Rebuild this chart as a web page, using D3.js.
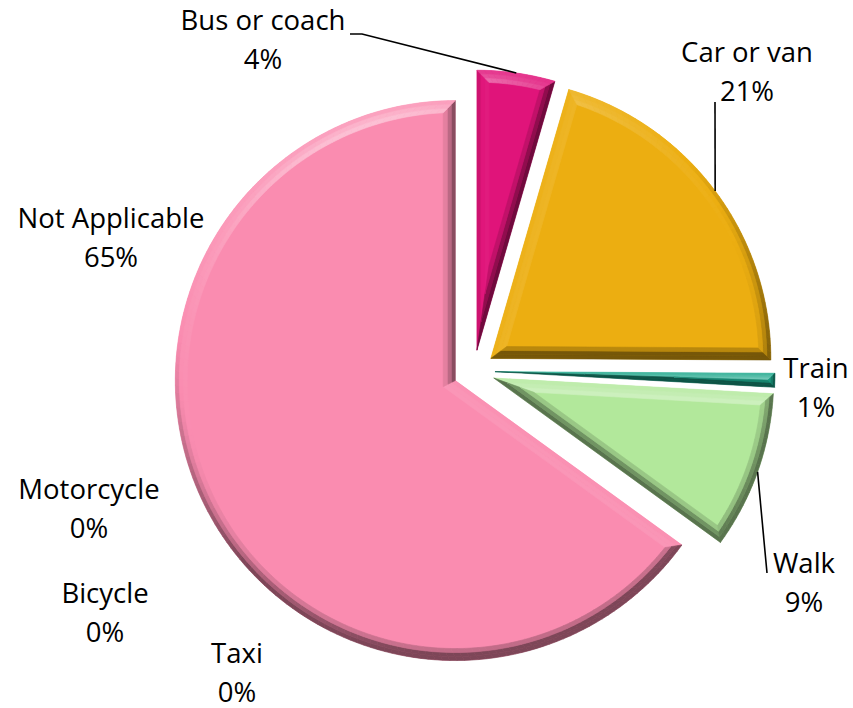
<!DOCTYPE html>
<html>
<head>
<meta charset="utf-8">
<script src="https://cdn.jsdelivr.net/npm/d3@7"></script>
<style>
    html, body { margin: 0; padding: 0; background: #fff; }
    svg { display: block; }
    .label { font-family: "Open Sans", "Noto Sans", sans-serif; font-size: 27.5px; fill: #000; }
</style>
</head>
<body>
<div id="viz_container"></div>
<script>
// data
const categories = ["Bus or coach", "Car or van", "Train", "Walk", "Taxi", "Bicycle", "Motorcycle", "Not Applicable"];
const shares = [4.49, 20.6, 0.8, 9.1, 0, 0, 0, 65.01];
const sliceColors = ["#E0147A", "#ECAE11", "#1EA88C", "#B2E89B", "#A5A5A5", "#5B9BD5", "#4472C4", "#FA8CB0"];

// label layout: [center x, first line baseline]
const labelAnchors = [[263, 30], [747, 62], [816, 378], [804, 573], [237, 663], [105, 603], [89, 499], [111, 228]];
// leader lines: category index -> [start x, start y, horizontal stub]
const leaderStarts = { 0: [350, 34, 12], 1: [715, 102, 0], 3: [767, 573, 0] };

const width = 853, height = 708;
const cx = 474, cy = 371, radius = 280, explode = 21, bevel = 12;
const lineGap = 38.5;

const svg = d3.select("#viz_container")
    .append("svg")
    .attr("width", width)
    .attr("height", height);

// pie layout, clockwise from 12 o'clock like Excel
const pie = d3.pie().sort(null).value(d => d.value);
const slices = pie(categories.map((c, i) => ({ name: c, value: shares[i], color: sliceColors[i] })));
const arc = d3.arc().innerRadius(0).outerRadius(radius);

const u = a => [Math.sin(a), -Math.cos(a)];
const norm = v => { const l = Math.hypot(v[0], v[1], v[2]); return v.map(x => x / l); };

// lighting for the bevel (light from the top, a bit to the left)
const light = norm([-0.25, -0.75, 0.6]);
const halfVec = norm([light[0], light[1], light[2] + 1]);
function shade(base, nx, ny, slope) {
    const s = Math.sin(slope), c = Math.cos(slope);
    const n = [nx * s, ny * s, c];
    const dot = Math.max(0, n[0] * light[0] + n[1] * light[1] + n[2] * light[2]);
    const f = 0.5 + 0.5 * dot / light[2];
    const spec = Math.pow(Math.max(0, n[0] * halfVec[0] + n[1] * halfVec[1] + n[2] * halfVec[2]), 40) * 0.6;
    const rgb = d3.rgb(base);
    const ch = v => {
        let o = f <= 1 ? v * f : v + (255 - v) * (f - 1) * 0.6;
        o += (255 - o) * spec;
        return Math.max(0, Math.min(255, o));
    };
    return d3.rgb(ch(rgb.r), ch(rgb.g), ch(rgb.b)).formatHex();
}

const bandEdges = [0, 4, 8, 12];
const bandSlopes = [62, 40, 18].map(d => d * Math.PI / 180);
const poly = pts => d3.line()(pts) + "Z";

// bevel facets of one slice, coordinates relative to its apex
function facets(sl) {
    const a0 = sl.startAngle, a1 = sl.endAngle, th = a1 - a0;
    const mid = (a0 + a1) / 2, s = Math.sin(th / 2), c = Math.cos(th / 2);
    const n0 = u(a0 + Math.PI / 2), n1 = u(a1 - Math.PI / 2);
    const L = d => Math.sqrt((radius - d) ** 2 - d * d);
    // thin slices: shrink the bevel until the inner shape still exists
    let dmax = bevel;
    while (dmax > 0.5 && (dmax / s) * c >= L(dmax) - 1) dmax -= 0.25;
    const k = dmax / bevel;
    const Q = d => { const m = u(mid); return [m[0] * d / s, m[1] * d / s]; };
    const I0 = d => { const e = u(a0), l = L(d); return [e[0] * l + n0[0] * d, e[1] * l + n0[1] * d]; };
    const I1 = d => { const e = u(a1), l = L(d); return [e[0] * l + n1[0] * d, e[1] * l + n1[1] * d]; };
    const out = [];
    for (let b = 0; b < bandSlopes.length; b++) {
        const da = bandEdges[b] * k, db = bandEdges[b + 1] * k, slope = bandSlopes[b];
        // straight edges
        out.push({ d: poly([Q(da), I0(da), I0(db), Q(db)]), fill: shade(sl.data.color, -n0[0], -n0[1], slope) });
        out.push({ d: poly([Q(da), Q(db), I1(db), I1(da)]), fill: shade(sl.data.color, -n1[0], -n1[1], slope) });
        // curved edge in small steps
        const sa = a0 + Math.asin(da / (radius - da)), ea = a1 - Math.asin(da / (radius - da));
        const sb = a0 + Math.asin(db / (radius - db)), eb = a1 - Math.asin(db / (radius - db));
        const steps = Math.max(2, Math.ceil((th * 180 / Math.PI) / 1.5));
        for (let j = 0; j < steps; j++) {
            const t0 = j / steps, t1 = (j + 1) / steps;
            const pt = (r, a) => { const e = u(a); return [e[0] * r, e[1] * r]; };
            const pts = [
                pt(radius - da, sa + (ea - sa) * t0), pt(radius - da, sa + (ea - sa) * t1),
                pt(radius - db, sb + (eb - sb) * t1), pt(radius - db, sb + (eb - sb) * t0)
            ];
            const nm = u(a0 + th * (t0 + t1) / 2);
            out.push({ d: poly(pts), fill: shade(sl.data.color, nm[0], nm[1], slope) });
        }
    }
    return out;
}

const apex = sl => {
    const m = u((sl.startAngle + sl.endAngle) / 2);
    return [cx + m[0] * explode, cy + m[1] * explode];
};

// draw slices
const sliceG = svg.append("g")
    .selectAll("g")
    .data(slices.filter(d => d.value > 0))
    .join("g")
    .attr("transform", d => `translate(${apex(d)[0]}, ${apex(d)[1]})`);

sliceG.append("path")
    .attr("d", arc)
    .attr("fill", d => d.data.color);

sliceG.selectAll("path.facet")
    .data(d => facets(d))
    .join("path")
    .attr("class", "facet")
    .attr("d", d => d.d)
    .attr("fill", d => d.fill)
    .attr("stroke", d => d.fill)
    .attr("stroke-width", 0.6)
    .attr("stroke-linejoin", "round");

// leader lines
Object.keys(leaderStarts).forEach(key => {
    const sl = slices[+key];
    const [sx, sy, stub] = leaderStarts[key];
    const p = apex(sl), m = u((sl.startAngle + sl.endAngle) / 2);
    const end = [p[0] + m[0] * radius, p[1] + m[1] * radius];
    svg.append("path")
        .attr("d", d3.line()([[sx, sy], [sx + stub, sy], end]))
        .attr("fill", "none")
        .attr("stroke", "#000")
        .attr("stroke-width", 1.6);
});

// data labels
const total = d3.sum(shares);
const labels = svg.append("g")
    .selectAll("text")
    .data(slices)
    .join("text")
    .attr("class", "label")
    .attr("text-anchor", "middle")
    .attr("x", (d, i) => labelAnchors[i][0])
    .attr("y", (d, i) => labelAnchors[i][1]);
labels.append("tspan")
    .attr("x", (d, i) => labelAnchors[i][0])
    .text(d => d.data.name);
labels.append("tspan")
    .attr("x", (d, i) => labelAnchors[i][0])
    .attr("dy", lineGap)
    .text(d => Math.round(d.value / total * 100) + "%");
</script>
</body>
</html>
